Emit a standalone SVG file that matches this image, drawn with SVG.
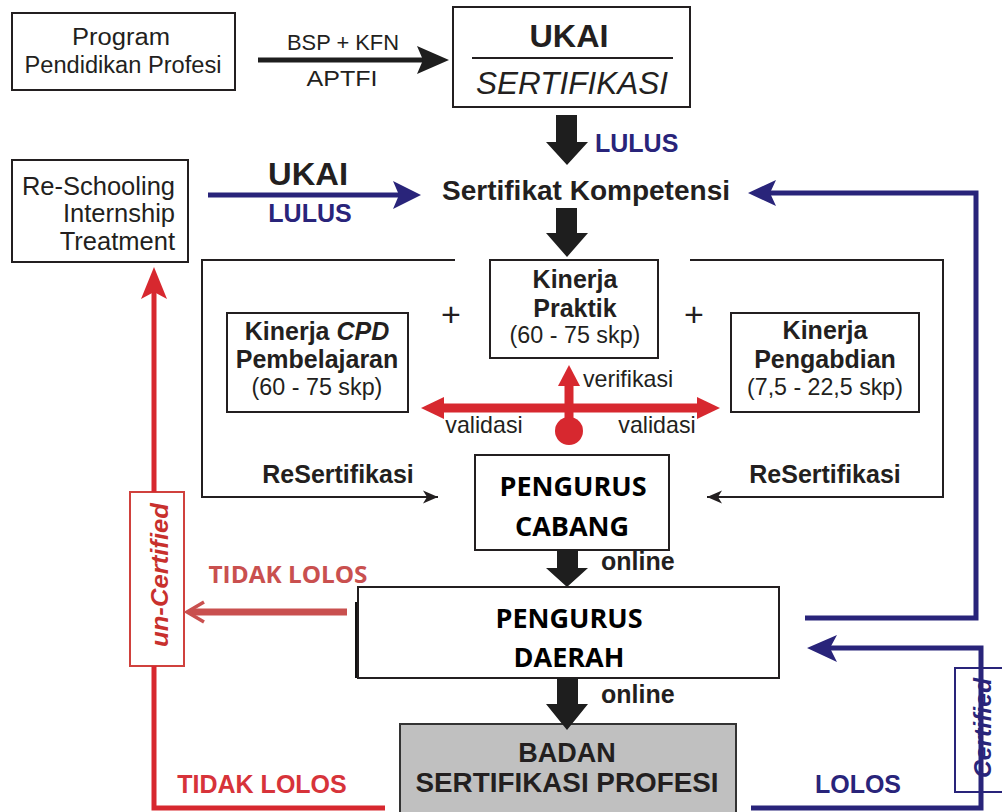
<svg xmlns="http://www.w3.org/2000/svg" width="1002" height="812" viewBox="0 0 1002 812">
<defs>
<style>
.box{fill:#fff;stroke:#231f20;stroke-width:2}
.t{font-family:"Liberation Sans",Arial,sans-serif;fill:#231f20;text-anchor:middle}
.s{text-anchor:start}
.e{text-anchor:end}
.b{font-weight:bold}
.cal{font-family:"Open Sans","Noto Sans",sans-serif;font-weight:bold;fill:#000;text-anchor:middle;font-size:27px}
.thin{fill:none;stroke:#231f20;stroke-width:2}
.navy{fill:none;stroke:#29247a;stroke-width:5}
.red{fill:none;stroke:#d7282f;stroke-width:5}
.blk{fill:#1e1e1e}
.nv{fill:#29247a}
.rd{fill:#d7282f}
</style>
<marker id="ah" markerWidth="16" markerHeight="14" refX="15" refY="7" orient="auto" markerUnits="userSpaceOnUse"><path d="M0,0.5 L15,7 L0,13.5 L4,7 Z" fill="#231f20"/></marker>
</defs>

<g id="program">
<rect class="box" x="12" y="13" width="223" height="77"/>
<text class="t" x="121" y="45" font-size="23" textLength="98" lengthAdjust="spacingAndGlyphs">Program</text>
<text class="t" x="123" y="73" font-size="23" textLength="197" lengthAdjust="spacingAndGlyphs">Pendidikan Profesi</text>
</g>

<g id="ukai">
<rect class="box" x="453" y="7" width="237" height="100"/>
<text class="t b" x="569" y="47" font-size="31" textLength="79" lengthAdjust="spacingAndGlyphs">UKAI</text>
<line x1="472" y1="58" x2="673" y2="58" stroke="#231f20" stroke-width="2"/>
<text class="t" x="572" y="94" font-size="31.5" font-style="italic" textLength="192" lengthAdjust="spacingAndGlyphs">SERTIFIKASI</text>
</g>

<g id="reschooling">
<rect class="box" x="12" y="160" width="176" height="102"/>
<text class="t e" x="175" y="195" font-size="25.5">Re-Schooling</text>
<text class="t e" x="175" y="222" font-size="25.5">Internship</text>
<text class="t e" x="175" y="250" font-size="25.5">Treatment</text>
</g>

<g id="sertifikat">
<text class="t b s" x="442" y="200" font-size="28" textLength="288" lengthAdjust="spacingAndGlyphs">Sertifikat Kompetensi</text>
</g>

<g id="praktik">
<rect class="box" x="490" y="260" width="168" height="98"/>
<text class="t b" x="575" y="288" font-size="25">Kinerja</text>
<text class="t b" x="575" y="317" font-size="25">Praktik</text>
<text class="t" x="575" y="343" font-size="23.3">(60 - 75 skp)</text>
</g>

<g id="cpd">
<rect class="box" x="227" y="313" width="181" height="99"/>
<text class="t b" x="317" y="340" font-size="25">Kinerja <tspan font-style="italic">CPD</tspan></text>
<text class="t b" x="317" y="368" font-size="25">Pembelajaran</text>
<text class="t" x="317" y="395" font-size="23.3">(60 - 75 skp)</text>
</g>

<g id="pengabdian">
<rect class="box" x="731" y="313" width="188" height="99"/>
<text class="t b" x="825" y="339" font-size="25">Kinerja</text>
<text class="t b" x="825" y="368" font-size="25">Pengabdian</text>
<text class="t" x="825" y="395" font-size="23.2">(7,5 - 22,5 skp)</text>
</g>

<g id="cabang">
<rect class="box" x="475" y="455" width="194" height="95"/>
<text class="cal" x="573" y="496">PENGURUS</text>
<text class="cal" x="572" y="536">CABANG</text>
</g>

<g id="daerah">
<line x1="357" y1="602" x2="357" y2="678" stroke="#111" stroke-width="4"/>
<rect class="box" x="358" y="587" width="421" height="91"/>
<text class="cal" x="569" y="628">PENGURUS</text>
<text class="cal" x="569" y="667">DAERAH</text>
</g>

<g id="bsp">
<rect x="400" y="724" width="336" height="95" fill="#c0c0c0" stroke="#333" stroke-width="2"/>
<text class="t b" x="567" y="762" font-size="27">BADAN</text>
<text class="t b" x="567" y="792" font-size="27" textLength="303" lengthAdjust="spacingAndGlyphs">SERTIFIKASI PROFESI</text>
</g>

<g id="uncertified">
<rect x="130" y="492" width="54" height="174" fill="#fff" stroke="#d0413d" stroke-width="2"/>
<text x="0" y="0" transform="translate(168,575) rotate(-90)" font-family="'Liberation Sans',Arial,sans-serif" font-weight="bold" font-style="italic" font-size="24" fill="#c8302d" text-anchor="middle" textLength="144" lengthAdjust="spacingAndGlyphs">un-Certified</text>
</g>

<g id="certified">
<rect x="955" y="668" width="60" height="124" fill="#fff" stroke="#29247a" stroke-width="2"/>
<text x="0" y="0" transform="translate(991,728) rotate(-90)" font-family="'Liberation Sans',Arial,sans-serif" font-weight="bold" font-style="italic" font-size="24" fill="#29247a" text-anchor="middle" textLength="100" lengthAdjust="spacingAndGlyphs">Certified</text>
</g>

<g id="connectors">
<!-- program to ukai -->
<line x1="258" y1="60" x2="425" y2="60" stroke="#1e1e1e" stroke-width="5"/>
<polygon class="blk" points="449,60 417,46 423,60 417,74"/>
<text class="t" x="343" y="50" font-size="22.5" textLength="112" lengthAdjust="spacingAndGlyphs">BSP + KFN</text>
<text class="t" x="342" y="86" font-size="22.5" textLength="71" lengthAdjust="spacingAndGlyphs">APTFI</text>

<!-- block arrows -->
<polygon class="blk" points="556,115 577,115 577,142 588,142 567,165 546,142 556,142"/>
<text class="b" x="595" y="152" font-family="'Liberation Sans',Arial,sans-serif" font-size="25" fill="#29247a">LULUS</text>
<polygon class="blk" points="556,208 577,208 577,233 588,233 567,257 546,233 556,233"/>
<polygon class="blk" points="557,550 578,550 578,568 588,568 567,587 546,568 557,568"/>
<text class="t b s" x="601" y="570" font-size="25">online</text>
<polygon class="blk" points="557,678 578,678 578,704 588,704 567,730 546,704 557,704"/>
<text class="t b s" x="601" y="703" font-size="25">online</text>

<!-- reschooling to sertifikat -->
<line class="navy" x1="208" y1="195" x2="400" y2="195"/>
<polygon class="nv" points="421,195 393,181 399,195 393,209"/>
<text class="t b" x="308" y="185" font-size="31" textLength="80" lengthAdjust="spacingAndGlyphs">UKAI</text>
<text class="b" x="310" y="222" font-family="'Liberation Sans',Arial,sans-serif" font-size="25" fill="#29247a" text-anchor="middle">LULUS</text>

<!-- daerah back to sertifikat -->
<polyline class="navy" points="805,618 976,618 976,193 768,193"/>
<polygon class="nv" points="748,193 776,180 770,193 776,206"/>

<!-- bsp to daerah (certified) -->
<polyline class="navy" points="751,808 981,808 981,648 830,648"/>
<polygon class="nv" points="807,648 837,635 830,648 837,662"/>
<text class="b" x="858" y="793" font-family="'Liberation Sans',Arial,sans-serif" font-size="25" fill="#29247a" text-anchor="middle">LOLOS</text>

<!-- resertifikasi brackets -->
<polyline class="thin" points="455,260 202,260 202,497 438,497" marker-end="url(#ah)"/>
<text class="t b" x="338" y="483" font-size="25">ReSertifikasi</text>
<polyline class="thin" points="690,260 943,260 943,497 707,497" marker-end="url(#ah)"/>
<text class="t b" x="825" y="483" font-size="25">ReSertifikasi</text>
<text class="t" x="451" y="326" font-size="34">+</text>
<text class="t" x="694" y="326" font-size="34">+</text>

<!-- red validation / verification arrows -->
<line x1="438" y1="408" x2="704" y2="408" stroke="#d7282f" stroke-width="9"/>
<polygon class="rd" points="421,408 444,397 444,419"/>
<polygon class="rd" points="720,408 697,397 697,419"/>
<line x1="569" y1="432" x2="569" y2="382" stroke="#d7282f" stroke-width="9"/>
<polygon class="rd" points="569,365 558,386 580,386"/>
<circle class="rd" cx="569" cy="431" r="14"/>
<text class="t s" x="583" y="387" font-size="23.2">verifikasi</text>
<text class="t" x="484" y="433" font-size="23.2">validasi</text>
<text class="t" x="657" y="433" font-size="23.2">validasi</text>

<!-- red un-certified loop -->
<polyline class="red" points="385,808 154,808 154,666"/>
<line class="red" x1="154" y1="492" x2="154" y2="292"/>
<polygon class="rd" points="154,267 141,299 154,292 167,299"/>
<text class="b" x="262" y="793" font-family="'Liberation Sans',Arial,sans-serif" font-size="25" fill="#d7333a" text-anchor="middle">TIDAK LOLOS</text>

<!-- daerah to un-certified -->
<line x1="347" y1="612" x2="190" y2="612" stroke="#c9504f" stroke-width="7"/>
<polyline points="204,602 187,612 204,622" fill="none" stroke="#c9504f" stroke-width="3.5"/>
<text x="288" y="583" font-family="'Open Sans','Noto Sans',sans-serif" font-weight="bold" font-size="24" fill="#c9504f" text-anchor="middle" textLength="159" lengthAdjust="spacingAndGlyphs">TIDAK LOLOS</text>
</g>
</svg>
